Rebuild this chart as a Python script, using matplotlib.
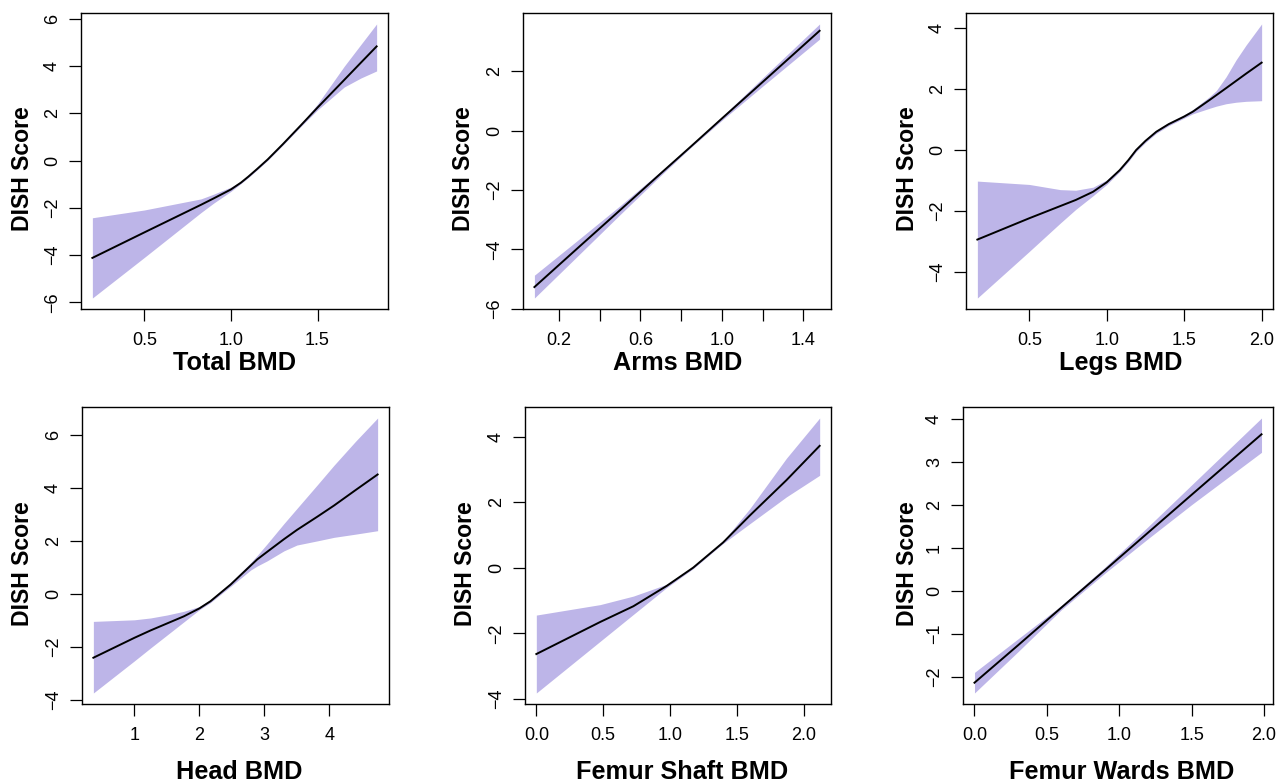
import numpy as np
import matplotlib
matplotlib.use("Agg")
import matplotlib.pyplot as plt

plt.rcParams['font.family'] = ['Liberation Sans', 'DejaVu Sans']

# Total BMD
total_x = [0.2, 0.5, 0.827, 0.9, 1.0, 1.058, 1.1, 1.15, 1.212, 1.3, 1.404, 1.5, 1.654, 1.75, 1.841]
total_fit = [-4.12, -3.04, -1.87, -1.6, -1.22, -0.93, -0.68, -0.36, 0.05, 0.7, 1.5, 2.25, 3.42, 4.15, 4.84]
total_lo = [-5.82, -4.1, -2.2, -1.8, -1.3, -0.97, -0.72, -0.4, 0.01, 0.66, 1.45, 2.15, 3.12, 3.5, 3.8]
total_hi = [-2.42, -2.09, -1.62, -1.42, -1.12, -0.89, -0.64, -0.32, 0.09, 0.74, 1.55, 2.4, 4.0, 4.92, 5.79]

# Arms BMD
arms_x = [0.08, 0.3, 0.5, 0.7, 0.85, 1.0, 1.2, 1.48]
arms_fit = [-5.27, -3.91, -2.68, -1.44, -0.52, 0.41, 1.64, 3.37]
arms_lo = [-5.64, -4.17, -2.83, -1.51, -0.55, 0.35, 1.5, 3.09]
arms_hi = [-4.87, -3.65, -2.53, -1.37, -0.49, 0.47, 1.78, 3.6]

# Legs BMD
legs_x = [0.165, 0.5, 0.7, 0.8, 0.912, 1.0, 1.084, 1.14, 1.19, 1.25, 1.32, 1.4, 1.5, 1.556, 1.663, 1.707, 1.77, 1.835, 1.9, 2.0]
legs_fit = [-2.94, -2.24, -1.84, -1.64, -1.37, -1.06, -0.66, -0.33, 0.0, 0.3, 0.6, 0.85, 1.1, 1.26, 1.64, 1.8, 2.03, 2.27, 2.51, 2.87]
legs_lo = [-4.86, -3.33, -2.4, -1.95, -1.5, -1.13, -0.71, -0.38, -0.05, 0.25, 0.55, 0.8, 1.05, 1.19, 1.37, 1.44, 1.52, 1.57, 1.6, 1.62]
legs_hi = [-1.02, -1.13, -1.3, -1.32, -1.22, -0.98, -0.61, -0.28, 0.05, 0.35, 0.65, 0.9, 1.16, 1.33, 1.75, 1.95, 2.4, 2.96, 3.45, 4.14]

# Head BMD
head_x = [0.37, 1.0, 1.25, 1.5, 1.76, 2.0, 2.17, 2.48, 2.79, 2.89, 3.04, 3.3, 3.5, 3.82, 4.07, 4.4, 4.74]
head_fit = [-2.41, -1.66, -1.38, -1.12, -0.85, -0.55, -0.28, 0.35, 1.07, 1.3, 1.58, 2.06, 2.41, 2.92, 3.33, 3.91, 4.5]
head_lo = [-3.74, -2.53, -2.04, -1.56, -1.06, -0.6, -0.33, 0.28, 0.9, 1.05, 1.24, 1.62, 1.84, 2.0, 2.13, 2.25, 2.38]
head_hi = [-1.04, -0.98, -0.91, -0.8, -0.66, -0.48, -0.22, 0.42, 1.18, 1.45, 1.88, 2.65, 3.22, 4.13, 4.85, 5.75, 6.63]

# Femur Shaft BMD
shaft_x = [0.0, 0.478, 0.726, 0.975, 1.174, 1.398, 1.597, 1.871, 2.12]
shaft_fit = [-2.63, -1.65, -1.17, -0.55, 0.01, 0.78, 1.6, 2.68, 3.73]
shaft_lo = [-3.82, -2.24, -1.42, -0.6, -0.02, 0.75, 1.35, 2.17, 2.83]
shaft_hi = [-1.44, -1.12, -0.86, -0.5, 0.04, 0.82, 1.81, 3.35, 4.58]

# Femur Wards BMD
wards_x = [0.0, 0.3, 0.6, 0.9, 1.2, 1.5, 1.983]
wards_fit = [-2.14, -1.27, -0.39, 0.48, 1.36, 2.24, 3.65]
wards_lo = [-2.38, -1.42, -0.44, 0.41, 1.22, 2.01, 3.23]
wards_hi = [-1.9, -1.12, -0.34, 0.55, 1.5, 2.47, 4.03]

panels = [
    ("Total BMD", total_x, total_fit, total_lo, total_hi, np.arange(-6, 7, 2), [0.5, 1.0, 1.5], [0.5, 1.0, 1.5], "%.1f"),
    ("Arms BMD", arms_x, arms_fit, arms_lo, arms_hi, np.arange(-6, 3, 2), [0.2, 0.4, 0.6, 0.8, 1.0, 1.2, 1.4], [0.2, 0.6, 1.0, 1.4], "%.1f"),
    ("Legs BMD", legs_x, legs_fit, legs_lo, legs_hi, np.arange(-4, 5, 2), [0.5, 1.0, 1.5, 2.0], [0.5, 1.0, 1.5, 2.0], "%.1f"),
    ("Head BMD", head_x, head_fit, head_lo, head_hi, np.arange(-4, 7, 2), [1, 2, 3, 4], [1, 2, 3, 4], "%d"),
    ("Femur Shaft BMD", shaft_x, shaft_fit, shaft_lo, shaft_hi, np.arange(-4, 5, 2), [0.0, 0.5, 1.0, 1.5, 2.0], [0.0, 0.5, 1.0, 1.5, 2.0], "%.1f"),
    ("Femur Wards BMD", wards_x, wards_fit, wards_lo, wards_hi, np.arange(-2, 5, 1), [0.0, 0.5, 1.0, 1.5, 2.0], [0.0, 0.5, 1.0, 1.5, 2.0], "%.1f"),
]

# axes boxes in pixels: left, top, right, bottom
boxes = [(81, 13, 388, 309), (523, 13, 831, 309), (966, 13, 1273, 309),
         (82, 407, 389, 704), (525, 407, 831, 704), (963, 407, 1273, 704)]
xlab_gap = [54, 54, 54, 68, 68, 68]
xlab_shift = [0, 1, 1, 4, 4, 4]
ylab_gap = [59, 60, 59, 59, 60, 56]
ylab_shift = 8

W, H = 1287, 783
fig = plt.figure(figsize=(W / 100, H / 100), dpi=100)

for i, (name, x, fit, lo, hi, yt, xt, xtl, fmt) in enumerate(panels):
    l, t, r, b = boxes[i]
    ax = fig.add_axes([l / W, 1 - b / H, (r - l) / W, (b - t) / H])
    ax.fill_between(x, lo, hi, color='#bdb5e8', lw=0)
    ax.plot(x, fit, color='black', lw=1.4)
    ax.margins(0.04)
    ax.set_yticks(yt)
    ax.set_xticks(xt)
    ax.set_xticklabels([(fmt % v) if v in xtl else "" for v in xt])
    ax.set_yticklabels([str(int(v)).replace('-', '\u2212') for v in yt], rotation=90, va='center')
    ax.tick_params(direction='out', length=8.4, width=0.9, labelsize=13)
    ax.tick_params(axis='x', pad=8.5)
    ax.tick_params(axis='y', pad=6)
    for s in ax.spines.values():
        s.set_linewidth(1.0)
    ax.set_xlabel(name, fontsize=18.2, fontweight='bold')
    ax.xaxis.set_label_coords(0.5 + xlab_shift[i] / (r - l), -xlab_gap[i] / (b - t))
    ax.xaxis.label.set_va('center')
    ax.set_ylabel("DISH Score", fontsize=16.6, fontweight='bold')
    ax.yaxis.set_label_coords(-ylab_gap[i] / (r - l), 0.5 - ylab_shift / (b - t))
    ax.yaxis.label.set_va('center')

fig.savefig("out.png", dpi=100)
